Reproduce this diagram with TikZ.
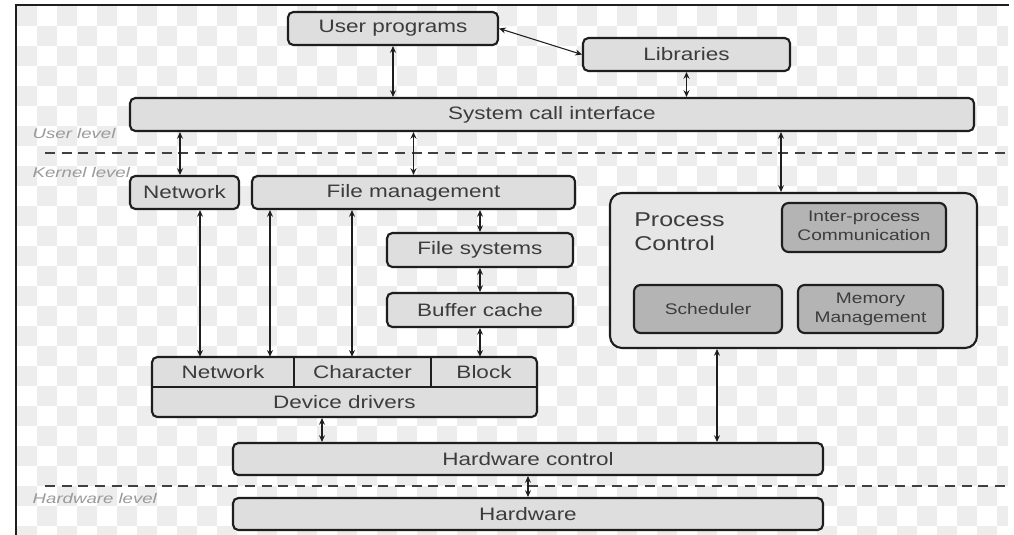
\documentclass[tikz,border=0pt]{standalone}
\usepackage{fontspec}
\setmainfont{Liberation Sans}
\usepackage{graphicx}
\usetikzlibrary{arrows.meta,fit,calc}
\definecolor{boxfill}{HTML}{DEDEDE}
\definecolor{innerfill}{HTML}{B4B4B4}
\definecolor{pcfill}{HTML}{E6E6E6}
\definecolor{txt}{HTML}{3C3C3C}
\definecolor{edge}{HTML}{1E1E1E}
\definecolor{chk}{HTML}{EDEDED}
\definecolor{lvl}{HTML}{9A9A9A}
\newcommand\sx[1]{\scalebox{1.25}[1]{#1}}
\newcommand\lx[1]{\scalebox{1.33}[1]{#1}}
\begin{document}
\begin{tikzpicture}[x=0.75pt,y=-0.75pt,
  box/.style={draw=edge, line width=1.6pt, fill=boxfill, rounded corners=4pt, inner sep=0pt},
  lbl/.style={inner sep=0pt, text=txt, font=\fontsize{13.5}{16}\selectfont},
  slbl/.style={inner sep=0pt, text=txt, font=\fontsize{11.5}{14}\selectfont},
  pcbox/.style={draw=edge, line width=1.6pt, fill=pcfill, rounded corners=9pt, inner sep=0pt},
  inner/.style={draw=edge, line width=1.6pt, fill=innerfill, rounded corners=5pt, inner sep=0pt},
  arr/.style={{Stealth[length=5pt,width=4.5pt]}-{Stealth[length=5pt,width=4.5pt]}, line width=0.8pt, draw=edge},
  level/.style={anchor=west, text=lvl, font=\fontsize{10.5}{12}\selectfont\itshape},
  sep/.style={draw=edge!85, line width=1.2pt, dash pattern=on 7.5pt off 5pt}]
\useasboundingbox (0,0) rectangle (1014,535);
% background
\fill[white] (0,0) rectangle (1014,535);
\foreach \i in {0,...,49}{
  \foreach \j in {0,...,26}{
    \pgfmathtruncatemacro\cpar{mod(\i+\j,2)}
    \ifnum\cpar=0
      \fill[chk] ({17+20*\i},{6+20*\j}) rectangle ({min(17+20*\i+20,1008)},{min(6+20*\j+20,535)});
    \fi
  }
}
\fill[white] (1008,0) rectangle (1014,535);
% frame
\draw[line width=2.2pt, edge] (16,535) -- (16,5) -- (1009,5);

% level separators
\draw[sep] (45,153) -- (1005,153);
\draw[sep] (45,486) -- (1005,486);
\node[level] (ul) at (28,133) {\lx{User level}};
\node[level] (kl) at (28,172) {\lx{Kernel level}};
\node[level] (hl) at (28,498) {\lx{Hardware level}};

% top boxes
\node[box, fit={(288,12) (498,45)}] (up) {};
\node[lbl] (upt) at (up.center) {\sx{User programs}};
\node[box, fit={(583,38) (790,71)}] (lib) {};
\node[lbl] (libt) at (lib.center) {\sx{Libraries}};
\node[box, fit={(130,98) (974,131)}] (sci) {};
\node[lbl] (scit) at (sci.center) {\sx{System call interface}};

% kernel boxes
\node[box, fit={(130,176) (239,209)}] (netk) {};
\node[lbl] (netkt) at (netk.center) {\sx{Network}};
\node[box, fit={(252,176) (575,209)}] (fm) {};
\node[lbl] (fmt) at (fm.center) {\sx{File management}};
\node[box, fit={(387,233) (573,267)}] (fs) {};
\node[lbl] (fst) at (fs.center) {\sx{File systems}};
\node[box, fit={(387,293) (573,327)}] (bc) {};
\node[lbl] (bct) at (bc.center) {\sx{Buffer cache}};

% device drivers
\node[box, fit={(152,357) (537,417)}] (dd) {};
\draw[edge, line width=1.6pt] (152,387) -- (537,387);
\draw[edge, line width=1.6pt] (294,357) -- (294,387);
\draw[edge, line width=1.6pt] (431,357) -- (431,387);
\node[inner sep=0pt, fit={(152,357) (294,387)}] (ddnet) {};
\node[lbl] (ddnett) at (ddnet.center) {\sx{Network}};
\node[inner sep=0pt, fit={(294,357) (431,387)}] (ddchr) {};
\node[lbl] (ddchrt) at (ddchr.center) {\sx{Character}};
\node[inner sep=0pt, fit={(431,357) (537,387)}] (ddblk) {};
\node[lbl] (ddblkt) at (ddblk.center) {\sx{Block}};
\node[inner sep=0pt, fit={(152,387) (537,417)}] (dddrv) {};
\node[lbl] (dddrvt) at (dddrv.center) {\sx{Device drivers}};

% process control
\node[pcbox, fit={(610,193) (977,348)}] (pc) {};
\node[anchor=west, text=txt, font=\fontsize{15}{18}\selectfont, inner sep=0pt] (pct) at (634,234)
  {\sx{\begin{tabular}{@{}l@{}}Process\\Control\end{tabular}}};
\node[inner, fit={(782,203) (946,252)}] (ipc) {};
\node[slbl] (ipct) at (ipc.center) {\sx{\begin{tabular}{@{}c@{}}Inter-process\\Communication\end{tabular}}};
\node[inner, fit={(634,285) (782,333)}] (sch) {};
\node[slbl] (scht) at (sch.center) {\sx{Scheduler}};
\node[inner, fit={(798,285) (943,333)}] (mm) {};
\node[slbl] (mmt) at (mm.center) {\sx{\begin{tabular}{@{}c@{}}Memory\\Management\end{tabular}}};

% hardware
\node[box, fit={(233,443) (823,475)}] (hc) {};
\node[lbl] (hct) at (hc.center) {\sx{Hardware control}};
\node[box, fit={(233,498) (823,530)}] (hw) {};
\node[lbl] (hwt) at (hw.center) {\sx{Hardware}};

% x positions for connectors
\coordinate (x180) at (180,0);
\coordinate (x200) at (200,0);
\coordinate (x270) at (270,0);
\coordinate (x352) at (352,0);
\coordinate (x322) at (322,0);
\coordinate (x717) at (717,0);
\coordinate (x781) at (781,0);

% connectors
\draw[arr] (up.east) -- (lib.west);
\draw[arr] (up.south) -- (up.south |- sci.north);
\draw[arr] (lib.south) -- (lib.south |- sci.north);
\draw[arr] (x180 |- sci.south) -- (x180 |- netk.north);
\draw[arr] (fm.north |- sci.south) -- (fm.north);
\draw[arr] (x781 |- sci.south) -- (x781 |- pc.north);
\draw[arr] (fs.north |- fm.south) -- (fs.north);
\draw[arr] (fs.south) -- (bc.north);
\draw[arr] (bc.south) -- (bc.south |- ddblk.north);
\draw[arr] (x200 |- netk.south) -- (x200 |- ddnet.north);
\draw[arr] (x270 |- fm.south) -- (x270 |- ddnet.north);
\draw[arr] (x352 |- fm.south) -- (x352 |- ddchr.north);
\draw[arr] (x322 |- dd.south) -- (x322 |- hc.north);
\draw[arr] (x717 |- pc.south) -- (x717 |- hc.north);
\draw[arr] (hc.south) -- (hw.north);
\end{tikzpicture}
\end{document}
